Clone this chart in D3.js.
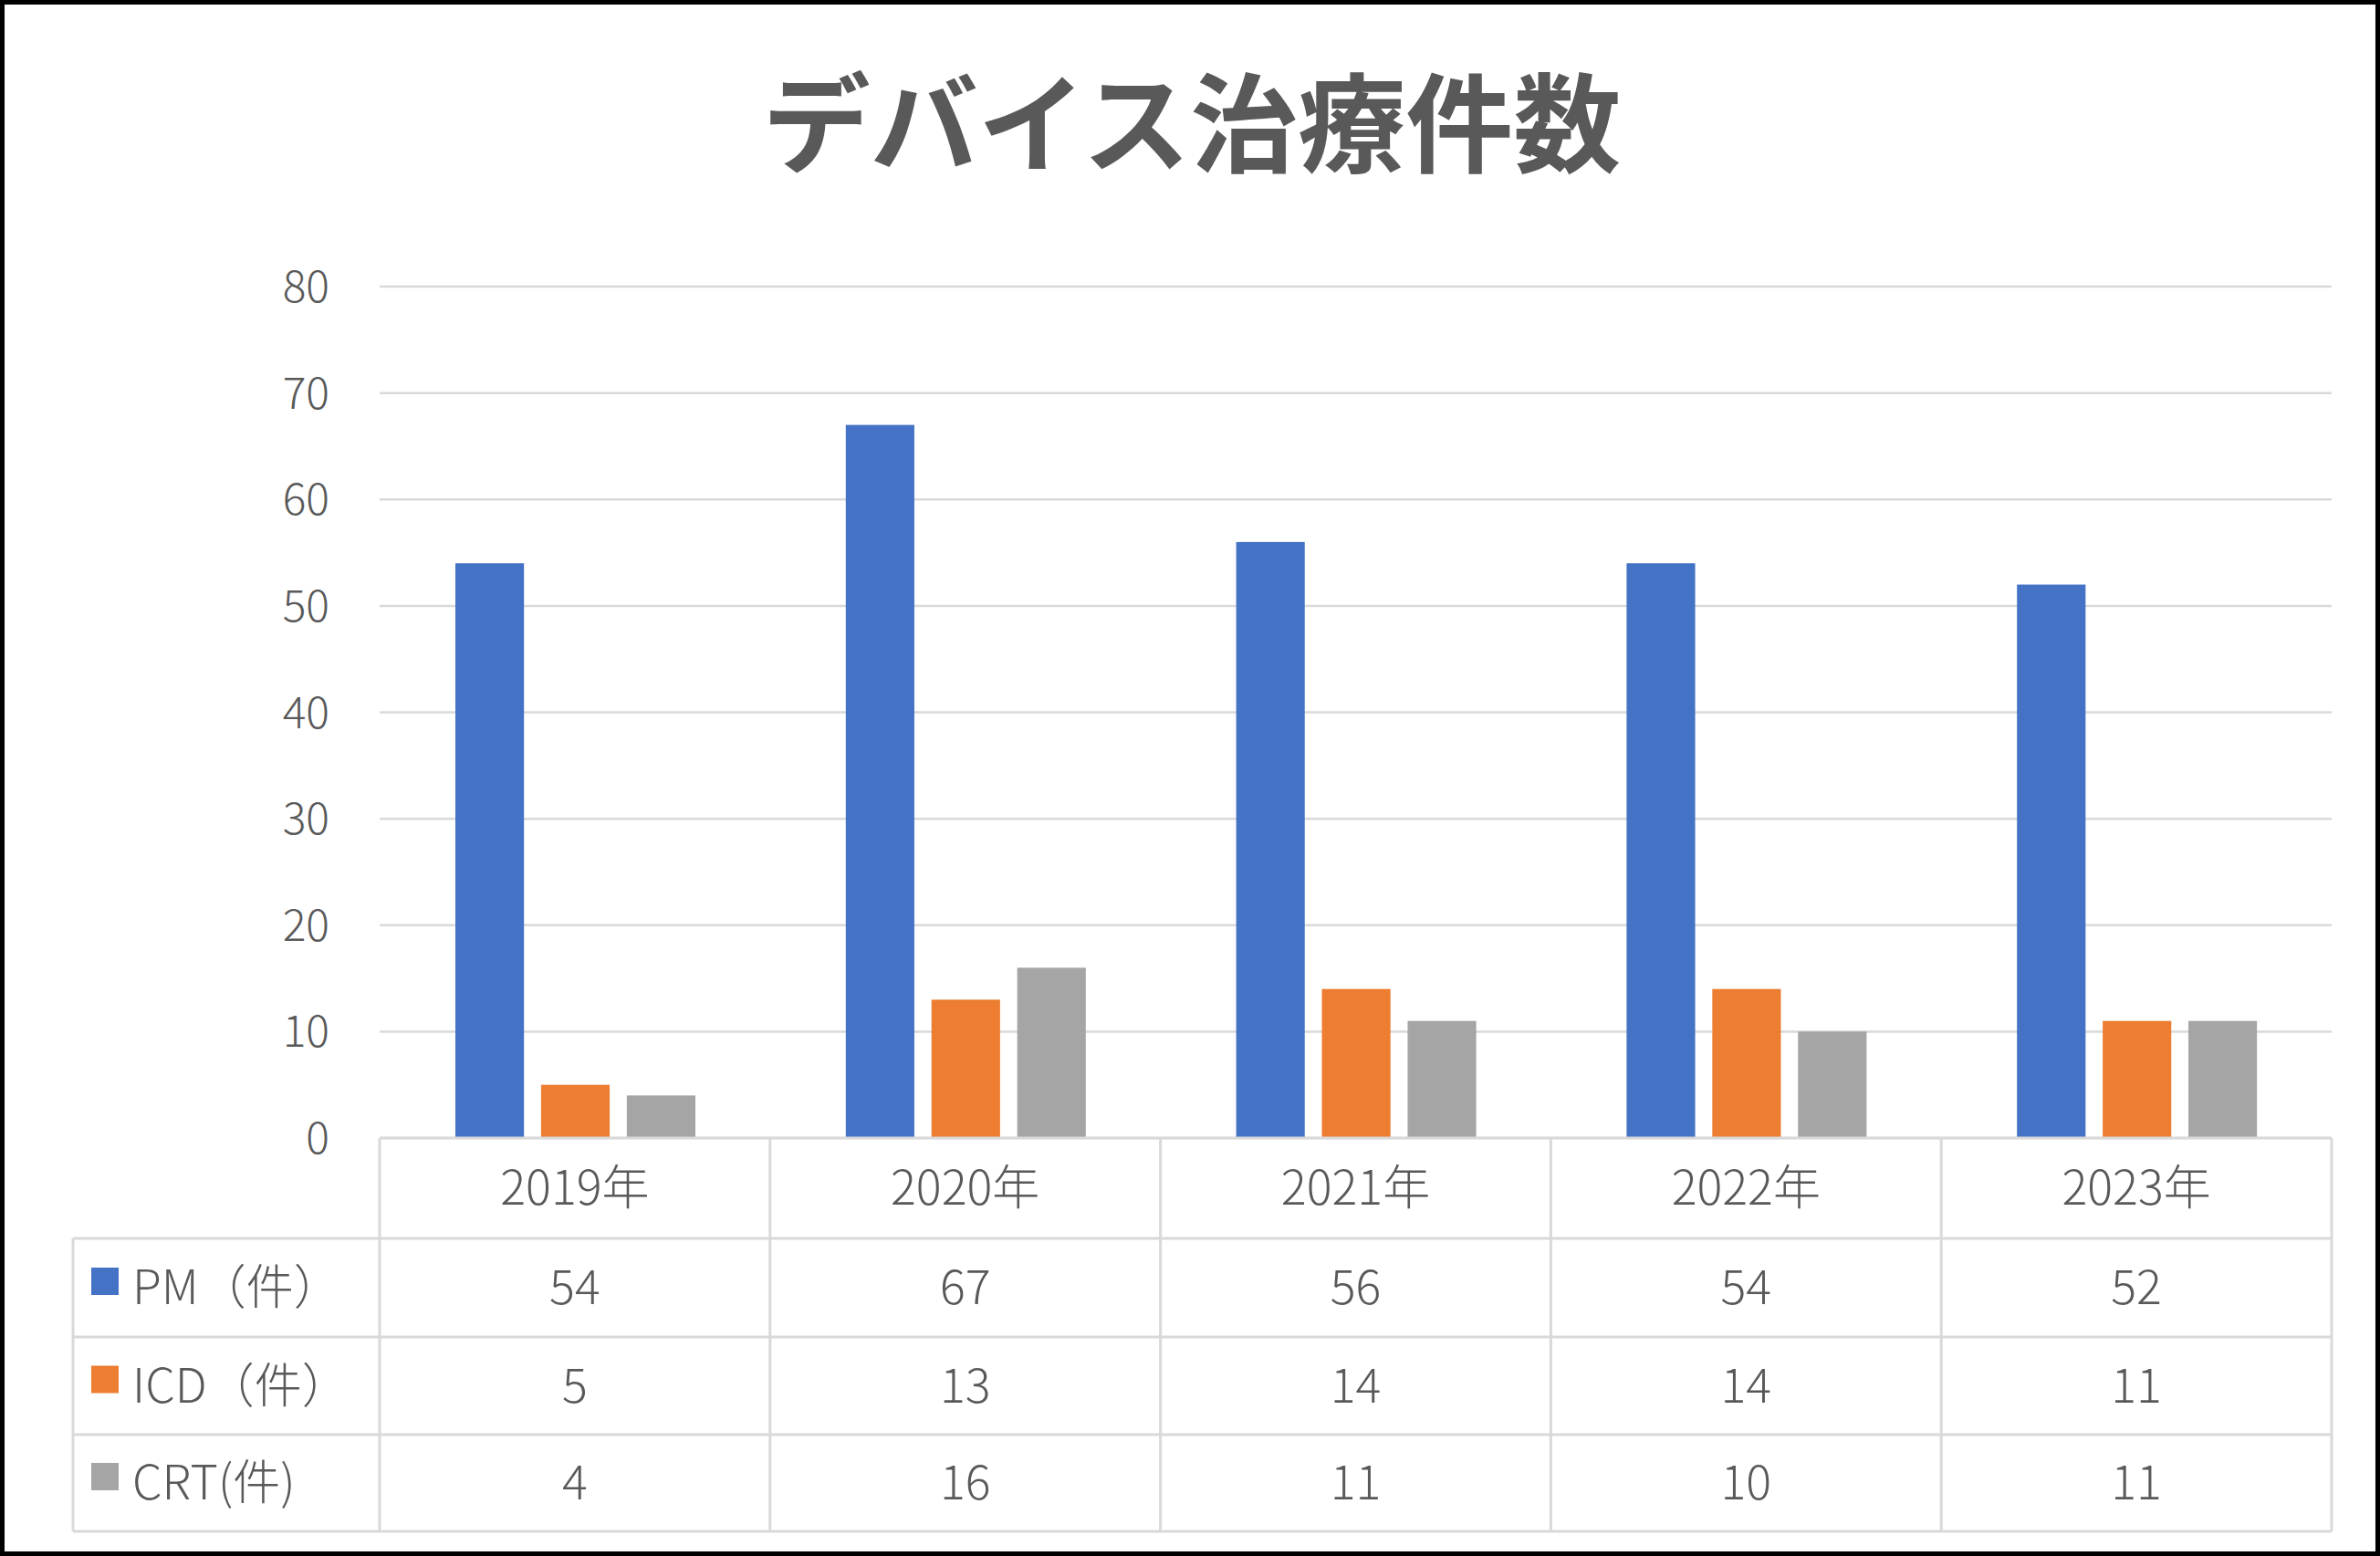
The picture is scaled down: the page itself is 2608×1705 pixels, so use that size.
<!DOCTYPE html>
<html><head><meta charset="utf-8">
<script src="https://cdn.jsdelivr.net/npm/d3@7"></script>
<style>body{margin:0;background:#fff}</style></head>
<body><svg id="c" width="2608" height="1705"></svg>
<script>
const categories = ["2019年","2020年","2021年","2022年","2023年"];
const seriesNames = ["PM（件）","ICD（件）","CRT(件)"];
const pm = [54,67,56,54,52];
const icd = [5,13,14,14,11];
const crt = [4,16,11,10,11];
const colors = ["#4472C4","#ED7D31","#A5A5A5"];
const yTicks = [0,10,20,30,40,50,60,70,80];
const series = [pm, icd, crt];

const svg = d3.select("#c");
const font = "'Noto Sans CJK JP','Noto Sans',sans-serif";
const txt = "#595959", grid = "#D9D9D9";
svg.append("rect").attr("x",2.5).attr("y",2.5).attr("width",2603).attr("height",1700)
  .attr("fill","#fff").attr("stroke","#000").attr("stroke-width",5);

const x = d3.scaleBand().domain(categories).range([416,2555]);
const xs = d3.scaleBand().domain([0,1,2]).range([83,346]).paddingInner(0.2);
const y = d3.scaleLinear().domain([0,80]).range([1247,314]);

svg.append("text").attr("x",1306).attr("y",180).attr("text-anchor","middle")
  .attr("font-family",font).attr("font-weight",700).attr("font-size",118).attr("fill",txt)
  .text("デバイス治療件数");

const g = svg.append("g");
g.selectAll(".grid").data(yTicks).join("line")
  .attr("x1",416).attr("x2",2555).attr("y1",d=>y(d)).attr("y2",d=>y(d))
  .attr("stroke",grid).attr("stroke-width",2.5);
g.selectAll(".yt").data(yTicks).join("text")
  .attr("x",361).attr("y",d=>y(d)+17).attr("text-anchor","end")
  .attr("font-family",font).attr("font-weight",300).attr("font-size",48).attr("fill",txt).text(d=>d);

series.forEach((s,i)=>{
  g.selectAll(".b"+i).data(s).join("rect")
    .attr("x",(d,j)=>x(categories[j])+xs(i)).attr("width",xs.bandwidth())
    .attr("y",d=>y(d)).attr("height",d=>y(0)-y(d)).attr("fill",colors[i]);
});

// table
const rows = [1247,1357,1465,1572,1678];
const tl = svg.append("g").attr("stroke",grid).attr("stroke-width",3);
tl.append("line").attr("x1",416).attr("x2",2555).attr("y1",rows[0]).attr("y2",rows[0]);
rows.slice(1).forEach(r=>tl.append("line").attr("x1",80).attr("x2",2555).attr("y1",r).attr("y2",r));
categories.forEach(c=>tl.append("line").attr("x1",x(c)).attr("x2",x(c)).attr("y1",rows[0]).attr("y2",rows[4]));
tl.append("line").attr("x1",2555).attr("x2",2555).attr("y1",rows[0]).attr("y2",rows[4]);
tl.append("line").attr("x1",80).attr("x2",80).attr("y1",rows[1]).attr("y2",rows[4]);

categories.forEach(c=>svg.append("text").attr("x",x(c)+x.bandwidth()/2).attr("y",(rows[0]+rows[1])/2+18)
  .attr("text-anchor","middle").attr("font-family",font).attr("font-weight",300).attr("font-size",52).attr("fill",txt).text(c));
series.forEach((s,i)=>{
  const cy=(rows[i+1]+rows[i+2])/2;
  svg.append("rect").attr("x",100).attr("y",cy-22).attr("width",30).attr("height",30).attr("fill",colors[i]);
  svg.append("text").attr("x",145).attr("y",cy+18).attr("font-family",font).attr("font-weight",300)
    .attr("font-size",52).attr("fill",txt).text(seriesNames[i]);
  s.forEach((v,j)=>svg.append("text").attr("x",x(categories[j])+x.bandwidth()/2).attr("y",cy+18)
    .attr("text-anchor","middle").attr("font-family",font).attr("font-weight",300).attr("font-size",52).attr("fill",txt).text(v));
});
</script></body></html>
